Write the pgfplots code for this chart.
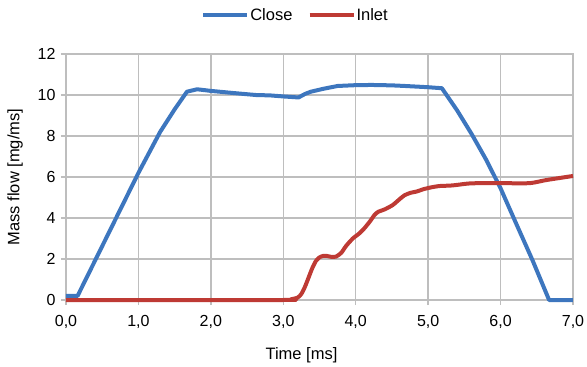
\documentclass[border=0pt]{standalone}
\usepackage{fontspec}
\setmainfont{Liberation Sans}
\usepackage{pgfplots}
\pgfplotsset{compat=1.18}
\definecolor{cblue}{RGB}{61,118,190}
\definecolor{cred}{RGB}{190,58,52}
\definecolor{cgrid}{RGB}{190,190,190}
\begin{document}
\begin{tikzpicture}
\begin{axis}[
  scale only axis, width=507pt, height=246pt,
  xmin=0, xmax=7, ymin=0, ymax=12,
  xtick={0,1,2,3,4,5,6,7},
  xticklabels={{0,0},{1,0},{2,0},{3,0},{4,0},{5,0},{6,0},{7,0}},
  ytick={0,2,4,6,8,10,12},
  yticklabels={0,2,4,6,8,10,12},
  /pgf/number format/assume math mode=true,
  grid=major,
  major grid style={cgrid, line width=1.3pt},
  axis line style={cgrid, line width=1.3pt},
  tick style={cgrid, line width=1.3pt},
  tick align=outside, major tick length=5pt,
  xtick pos=bottom, ytick pos=left,
  tick label style={font=\fontsize{16}{19}\selectfont, text=black},
  xticklabel style={yshift=-7pt},
  yticklabel style={xshift=-2pt},
  xlabel={Time [ms]}, ylabel={Mass flow [mg/ms]},
  every axis x label/.style={at={(axis description cs:0.5,0)}, yshift=-55pt, xshift=-18pt, anchor=center, font=\fontsize{16.5}{19}\selectfont},
  every axis y label/.style={at={(axis description cs:0,0.5)}, xshift=-51pt, rotate=90, anchor=center, font=\fontsize{16.5}{19}\selectfont},
  clip=false,
  legend columns=2,
  legend style={at={(axis description cs:0.4517,1.1585)}, anchor=center, draw=none, fill=none,
    font=\fontsize{16.5}{19}\selectfont, inner xsep=0pt, inner ysep=0pt,
    nodes={inner xsep=1pt},
    /tikz/every even column/.append style={column sep=14pt}},
  legend image code/.code={\draw[#1, line width=4pt] (0pt,0pt) -- (44pt,0pt);},
]
\addplot[cblue, line width=4pt, line join=round] coordinates {
(0,0.2) (0.16,0.2) (1.0,6.2) (1.3,8.2) (1.5,9.3) (1.67,10.16) (1.81,10.28)
(2.0,10.2) (2.3,10.1) (2.62,10.0) (2.82,9.98) (3.0,9.93) (3.21,9.88) (3.3,10.05) (3.38,10.16)
(3.55,10.3) (3.75,10.44) (4.0,10.48) (4.22,10.49) (4.5,10.47) (4.68,10.44) (5.0,10.38) (5.19,10.33)
(5.4,9.25) (5.6,8.1) (5.8,6.85) (6.0,5.45) (6.2,3.85) (6.44,1.95) (6.67,0) (7.0,0)
};
\addlegendentry{Close}
\addplot[cred, line width=4pt, line join=round, smooth, tension=0.4] coordinates {
(0,0) (3.0,0) (3.1,0.03) (3.2,0.12) (3.25,0.3) (3.3,0.65) (3.35,1.1) (3.4,1.55) (3.45,1.9)
(3.5,2.08) (3.55,2.15) (3.6,2.15) (3.67,2.1) (3.73,2.12) (3.8,2.3) (3.87,2.65) (3.96,3.0)
(4.05,3.25) (4.12,3.5) (4.2,3.85) (4.26,4.15) (4.31,4.3) (4.4,4.42) (4.51,4.63) (4.6,4.9)
(4.67,5.1) (4.75,5.22) (4.85,5.3) (4.93,5.4) (5.05,5.5) (5.16,5.56) (5.3,5.58) (5.39,5.61)
(5.55,5.68) (5.71,5.7) (6.0,5.7) (6.4,5.7) (6.63,5.85) (7.0,6.05)
};
\addlegendentry{Inlet}
\end{axis}
\pgfresetboundingbox
\path[use as bounding box] (-66pt,-67pt) rectangle (521pt,300pt);
\end{tikzpicture}
\end{document}
